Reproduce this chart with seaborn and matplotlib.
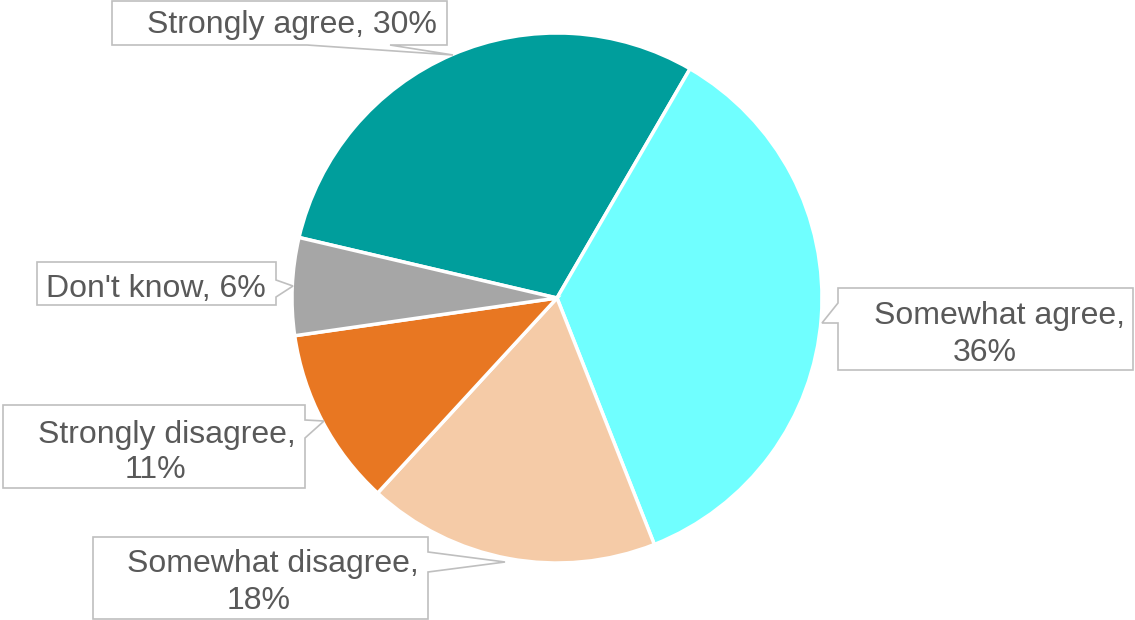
import matplotlib
matplotlib.use("Agg")
import matplotlib.pyplot as plt
from matplotlib.patches import Polygon
import seaborn as sns

categories = ["Strongly agree", "Somewhat agree", "Somewhat disagree", "Strongly disagree", "Don't know"]
values = [30, 36, 18, 11, 6]
colors = ["#009E9C", "#70FFFF", "#F5CBA7", "#E87722", "#A6A6A6"]
label_lines = [["Strongly agree, 30%"], ["Somewhat agree,", "36%"], ["Somewhat disagree,", "18%"],
               ["Strongly disagree,", "11%"], ["Don't know, 6%"]]

sns.set_theme(style="white")
plt.rcParams['font.family'] = ['Liberation Sans', 'DejaVu Sans']

W, H = 1135, 620
fig = plt.figure(figsize=(W / 100, H / 100), dpi=100)
cx, cy, r = 557, 298, 265
ax = fig.add_axes([(cx - r) / W, 1 - (cy + r) / H, 2 * r / W, 2 * r / H])

wedges, _ = ax.pie(values, colors=colors, startangle=166.8, counterclock=False,
                   radius=1.0, center=(0, 0),
                   wedgeprops=dict(edgecolor="white", linewidth=2.5))
ax.set_xlim(-1, 1)
ax.set_ylim(-1, 1)
ax.axis("off")

def f(px, py):
    return (px / W, 1 - py / H)

# callout outlines (box with pointer), pixel layout, top-left origin
callouts = [
    [(112, 1), (447, 1), (447, 45), (390, 45), (453, 55), (307, 45), (112, 45)],
    [(838, 288), (1133, 288), (1133, 370), (838, 370), (838, 323), (822, 323), (838, 303)],
    [(93, 537), (428, 537), (428, 552), (505, 562), (428, 572), (428, 619), (93, 619)],
    [(3, 405), (305, 405), (305, 420), (324, 421), (305, 438), (305, 488), (3, 488)],
    [(37, 262), (276, 262), (276, 280), (293, 286), (276, 297), (276, 305), (37, 305)],
]
# text line centers (pixel)
text_pos = [
    [(292, 22)],
    [(999, 313), (985, 350)],
    [(273, 561), (259, 598)],
    [(167, 432), (155, 467)],
    [(156, 286)],
]

for outline, lines, poss in zip(callouts, label_lines, text_pos):
    poly = Polygon([f(*p) for p in outline], closed=True, transform=fig.transFigure,
                   facecolor="white", edgecolor="#BFBFBF", linewidth=1.2, zorder=5)
    fig.patches.append(poly)
    for line, (tx, ty) in zip(lines, poss):
        fig.text(*f(tx, ty + 11.4), line, ha="center", va="baseline",
                 fontsize=23, color="#595959", zorder=6)

fig.savefig("out.png", dpi=100, facecolor="white")
